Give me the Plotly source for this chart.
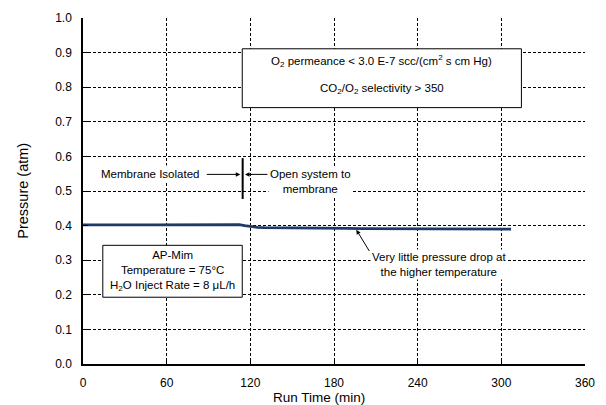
import plotly.graph_objects as go

# Data
run_time = [0, 5, 10, 20, 30, 40, 50, 60, 70, 80, 90, 100, 108, 112, 116, 120, 125, 130, 140, 150,
            160, 170, 180, 190, 200, 210, 220, 230, 240, 250, 260, 270, 280, 290, 300, 307]
pressure = [0.402, 0.403, 0.402, 0.402, 0.403, 0.402, 0.402, 0.402, 0.402, 0.402, 0.403, 0.403, 0.403, 0.403,
            0.400, 0.397, 0.395, 0.394, 0.394, 0.393, 0.393, 0.393, 0.392, 0.392, 0.391, 0.391, 0.391,
            0.391, 0.391, 0.391, 0.391, 0.390, 0.390, 0.390, 0.390, 0.390]
x_ticks = [0, 60, 120, 180, 240, 300, 360]
y_ticks = [0.0, 0.1, 0.2, 0.3, 0.4, 0.5, 0.6, 0.7, 0.8, 0.9, 1.0]

FONT = "Liberation Sans, Arial, sans-serif"

fig = go.Figure()
fig.add_trace(go.Scatter(x=run_time, y=pressure, mode="lines",
                         line=dict(color="#1f3a68", width=2.8), showlegend=False))

grid = dict(showgrid=True, gridcolor="black", gridwidth=1, griddash="3px,2px")
fig.update_xaxes(range=[0, 360], tickvals=x_ticks, ticktext=[str(t) for t in x_ticks],
                 ticks="inside", ticklen=5, tickcolor="black", ticklabelstandoff=7,
                 showline=True, linecolor="black", linewidth=1.5, zeroline=False,
                 tickfont=dict(size=12, color="black"), **grid)
fig.update_yaxes(range=[0, 1.0], tickvals=y_ticks, ticktext=[f"{v:.1f}" for v in y_ticks],
                 ticks="inside", ticklen=5, tickcolor="black", ticklabelstandoff=7,
                 showline=True, linecolor="black", linewidth=1.5, zeroline=False,
                 tickfont=dict(size=12, color="black"), **grid)

# Axis titles
fig.add_annotation(xref="x", yref="paper", x=169, y=-0.097, text="Run Time (min)",
                   showarrow=False, font=dict(size=13.5, color="black"), yanchor="middle")
fig.add_annotation(xref="paper", yref="paper", x=-0.140, y=0.5, text="Pressure (atm)",
                   showarrow=False, textangle=-90, font=dict(size=14.5, color="black"))

# Top info box
fig.add_shape(type="rect", x0=114.2, x1=314.4, y0=0.741, y1=0.911,
              line=dict(color="black", width=1), fillcolor="white", layer="above")
fig.add_annotation(x=214.3, y=0.876, text="O<sub>2</sub> permeance < 3.0 E-7 scc/(cm<sup>2</sup> s cm Hg)",
                   showarrow=False, font=dict(size=11.5, color="black"))
fig.add_annotation(x=214.3, y=0.795, text="CO<sub>2</sub>/O<sub>2</sub> selectivity > 350",
                   showarrow=False, font=dict(size=11.5, color="black"))

# Conditions box
fig.add_shape(type="rect", x0=14.2, x1=114.2, y0=0.193, y1=0.343,
              line=dict(color="black", width=1), fillcolor="white", layer="above")
fig.add_annotation(x=64.2, y=0.268,
                   text="AP-Mim<br>Temperature = 75°C<br>H<sub>2</sub>O Inject Rate = 8 μL/h",
                   showarrow=False, font=dict(size=11.5, color="black"))

# Vertical marker line
fig.add_shape(type="line", x0=114.5, x1=114.5, y0=0.477, y1=0.595,
              line=dict(color="black", width=2))

# Labels with white background
fig.add_annotation(x=48, y=0.548, text="Membrane Isolated", showarrow=False,
                   font=dict(size=11.5, color="black"), bgcolor="white", borderpad=2)
fig.add_annotation(x=163, y=0.528, text="Open system to<br>membrane", showarrow=False,
                   font=dict(size=11.5, color="black"), bgcolor="white", borderpad=1)

# Arrows
fig.add_annotation(x=112.8, y=0.548, ax=87.7, ay=0.548, axref="x", ayref="y", xref="x", yref="y",
                   text="", showarrow=True, arrowhead=2, arrowsize=0.9, arrowwidth=1, arrowcolor="black")
fig.add_annotation(x=116.2, y=0.548, ax=133.3, ay=0.548, axref="x", ayref="y", xref="x", yref="y",
                   text="", showarrow=True, arrowhead=2, arrowsize=0.9, arrowwidth=1, arrowcolor="black")

# Pressure drop note
fig.add_annotation(x=255, y=0.288, text="Very little pressure drop at<br>the higher temperature",
                   showarrow=False, font=dict(size=11.5, color="black"), bgcolor="white", borderpad=1)
fig.add_annotation(x=196, y=0.388, ax=206, ay=0.322, axref="x", ayref="y", xref="x", yref="y",
                   text="", showarrow=True, arrowhead=2, arrowsize=0.9, arrowwidth=1, arrowcolor="black")

fig.update_layout(width=606, height=405, margin=dict(l=83, r=11, t=17, b=41),
                  plot_bgcolor="white", paper_bgcolor="white",
                  font=dict(family=FONT, color="black"))

fig.write_html("out.html")
